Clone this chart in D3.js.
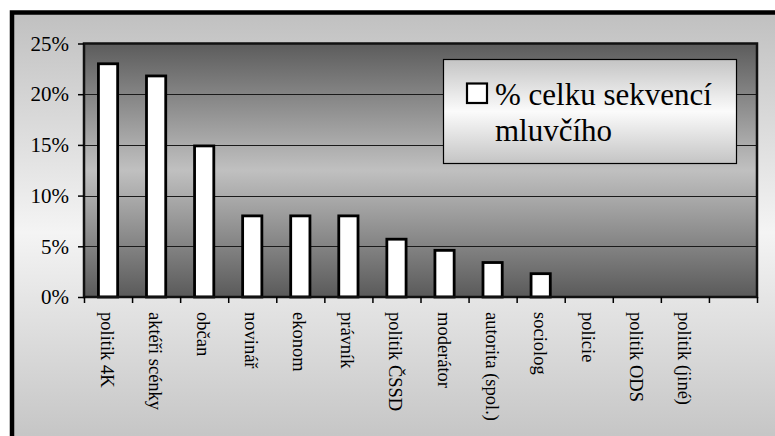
<!DOCTYPE html>
<html>
<head>
<meta charset="utf-8">
<script src="https://cdn.jsdelivr.net/npm/d3@7"></script>
<style>
  html, body { margin: 0; padding: 0; background: #ffffff; }
  svg { display: block; }
  text { font-family: "Liberation Serif", "Times New Roman", serif; fill: #000; }
</style>
</head>
<body>
<svg id="chart" width="775" height="436"></svg>
<script>
// ---- data ----
const categories = ["politik 4K", "aktéři scénky", "občan", "novinář", "ekonom", "právník",
  "politik ČSSD", "moderátor", "autorita (spol.)", "sociolog", "policie", "politik ODS", "politik (jiné)", ""];
const values = [23.0, 21.8, 14.9, 8.0, 8.0, 8.0, 5.7, 4.6, 3.4, 2.3, 0, 0, 0, null];
const yTicks = [0, 5, 10, 15, 20, 25];
const seriesName = ["% celku sekvencí", "mluvčího"];

const FONT = '"Liberation Serif", "Times New Roman", serif';
const svg = d3.select("#chart");
const defs = svg.append("defs");

function vgrad(id, stops) {
  const g = defs.append("linearGradient").attr("id", id)
    .attr("x1", 0).attr("y1", 0).attr("x2", 0).attr("y2", 1);
  stops.forEach(s => g.append("stop").attr("offset", s[0]).attr("stop-color", s[1]));
}
vgrad("bgGrad", [[0, "#c0c0c0"], [0.5, "#f4f4f4"], [1, "#c2c2c2"]]);
vgrad("plotGrad", [[0, "#5c5c5c"], [0.5, "#c0c0c0"], [1, "#5a5a5a"]]);
vgrad("legGrad", [[0, "#c4c4c4"], [0.5, "#fbfbfb"], [1, "#c4c4c4"]]);

// outer chart area (extends past the image on right and bottom)
svg.append("rect").attr("x", 12).attr("y", 12.5).attr("width", 800).attr("height", 440)
  .attr("fill", "url(#bgGrad)").attr("stroke", "#000").attr("stroke-width", 4.5);

const plot = { left: 84, right: 757, top: 43.5, bottom: 297 };

const x = d3.scaleBand().domain(categories.map((c, i) => i))
  .range([plot.left, plot.right]).paddingInner(0).paddingOuter(0);
const y = d3.scaleLinear().domain([0, 25]).range([plot.bottom, plot.top]);

// plot area background
svg.append("rect").attr("x", plot.left).attr("y", plot.top)
  .attr("width", plot.right - plot.left).attr("height", plot.bottom - plot.top)
  .attr("fill", "url(#plotGrad)");

// gridlines
svg.append("g").selectAll("line").data(yTicks.filter(t => t > 0 && t < 25)).join("line")
  .attr("x1", plot.left).attr("x2", plot.right)
  .attr("y1", d => Math.round(y(d)) + 0.5).attr("y2", d => Math.round(y(d)) + 0.5)
  .attr("stroke", "#1a1a1a").attr("stroke-width", 1);

// bars
const barW = x.bandwidth() / 2.5;
svg.append("g").selectAll("rect")
  .data(values.map((v, i) => ({ v, i })).filter(d => d.v !== null && d.v > 0))
  .join("rect")
  .attr("x", d => x(d.i) + (x.bandwidth() - barW) / 2)
  .attr("y", d => y(d.v))
  .attr("width", barW)
  .attr("height", d => y(0) - y(d.v))
  .attr("fill", "#ffffff").attr("stroke", "#000").attr("stroke-width", 2.8);

// plot border
svg.append("rect").attr("x", plot.left).attr("y", plot.top)
  .attr("width", plot.right - plot.left).attr("height", plot.bottom - plot.top)
  .attr("fill", "none").attr("stroke", "#111").attr("stroke-width", 2.5);

// y axis
const yAxis = d3.axisLeft(y).tickValues(yTicks).tickSize(6).tickPadding(9)
  .tickFormat(d => d + "%");
const gy = svg.append("g").attr("transform", `translate(${plot.left},0)`).call(yAxis)
  .attr("font-family", FONT);
gy.select(".domain").remove();
gy.selectAll(".tick line").attr("stroke", "#000").attr("stroke-width", 1.5);
gy.selectAll(".tick text").attr("font-family", FONT).style("font-family", FONT)
  .style("font-size", "21px").attr("fill", "#000");

// x axis ticks at category boundaries
const xi = d3.scaleLinear().domain([0, categories.length]).range([plot.left, plot.right]);
const xAxis = d3.axisBottom(xi).tickValues(d3.range(0, categories.length + 1))
  .tickSize(6).tickFormat("");
const gx = svg.append("g").attr("transform", `translate(0,${plot.bottom})`).call(xAxis);
gx.select(".domain").remove();
gx.selectAll(".tick line").attr("stroke", "#000").attr("stroke-width", 1.5);

// category labels (rotated)
svg.append("g").selectAll("text").data(categories.map((c, i) => ({ c, i })).filter(d => d.c))
  .join("text")
  .attr("transform", d => `translate(${x(d.i) + x.bandwidth() / 2 - 1},${plot.bottom + 15}) rotate(90)`)
  .attr("text-anchor", "start")
  .attr("dominant-baseline", "central")
  .attr("font-family", FONT)
  .style("font-size", "18.5px")
  .text(d => d.c);

// legend
const leg = svg.append("g");
leg.append("rect").attr("x", 443.5).attr("y", 59.5).attr("width", 293).attr("height", 104)
  .attr("fill", "url(#legGrad)").attr("stroke", "#000").attr("stroke-width", 1.2);
leg.append("rect").attr("x", 467).attr("y", 83.5).attr("width", 20).attr("height", 19.5)
  .attr("fill", "#fff").attr("stroke", "#000").attr("stroke-width", 2.2);
leg.append("text").attr("x", 495).attr("y", 105).attr("font-family", FONT)
  .style("font-size", "31px").text(seriesName[0]);
leg.append("text").attr("x", 495).attr("y", 141).attr("font-family", FONT)
  .style("font-size", "31px").text(seriesName[1]);
</script>
</body>
</html>
